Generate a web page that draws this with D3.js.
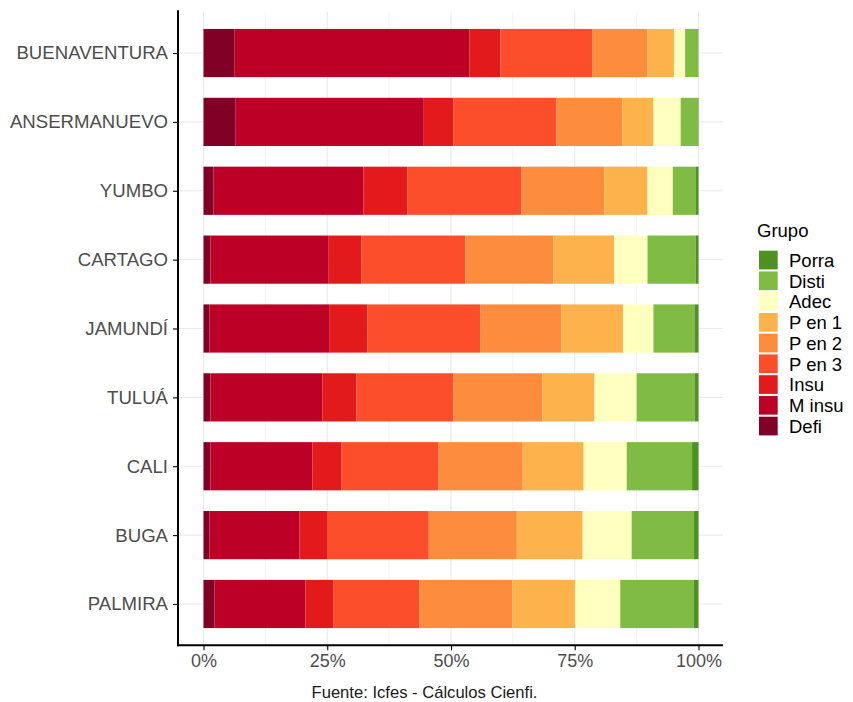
<!DOCTYPE html>
<html>
<head>
<meta charset="utf-8">
<script src="https://cdn.jsdelivr.net/npm/d3@7"></script>
<style>
  html, body { margin: 0; padding: 0; background: #fff; }
  svg { display: block; font-family: "Liberation Sans", Arial, sans-serif; }
</style>
</head>
<body>
<svg id="chart" width="853" height="702"></svg>
<script>
// ---- data ----
const categories = ["BUENAVENTURA", "ANSERMANUEVO", "YUMBO", "CARTAGO", "JAMUNDÍ", "TULUÁ", "CALI", "BUGA", "PALMIRA"];
const groups = ["Defi", "M insu", "Insu", "P en 3", "P en 2", "P en 1", "Adec", "Disti", "Porra"];
const defi   = [6.3, 6.5, 2.0, 1.4, 1.2, 1.4, 1.4, 1.2, 2.2];
const minsu  = [47.4, 38.0, 30.3, 23.9, 24.3, 22.6, 20.6, 18.2, 18.4];
const insu   = [6.3, 6.0, 8.9, 6.6, 7.6, 6.9, 5.9, 5.7, 5.6];
const pen3   = [18.6, 20.8, 23.0, 21.0, 22.8, 19.6, 19.6, 20.4, 17.4];
const pen2   = [11.1, 13.3, 16.8, 17.8, 16.4, 18.0, 17.0, 17.8, 18.8];
const pen1   = [5.4, 6.3, 8.7, 12.3, 12.5, 10.5, 12.3, 13.3, 12.7];
const adec   = [2.2, 5.5, 5.1, 6.7, 6.1, 8.5, 8.7, 9.9, 9.1];
const disti  = [2.7, 3.5, 4.7, 9.7, 8.3, 11.7, 13.2, 12.6, 14.8];
const porra  = [0.0, 0.1, 0.5, 0.6, 0.8, 0.8, 1.3, 0.9, 1.0];
const xTicks = [0, 25, 50, 75, 100];
const xMinor = [12.5, 37.5, 62.5, 87.5];
const caption = "Fuente: Icfes - Cálculos Cienfi.";
const legendTitle = "Grupo";

const colors = {
  "Defi": "#800026", "M insu": "#bd0026", "Insu": "#e31a1c", "P en 3": "#fc4e2a",
  "P en 2": "#fd8d3c", "P en 1": "#feb24c", "Adec": "#ffffc0", "Disti": "#80bc44", "Porra": "#4d9221"
};

const seriesArrays = [defi, minsu, insu, pen3, pen2, pen1, adec, disti, porra];
const table = categories.map((c, i) => {
  const row = { cat: c };
  groups.forEach((g, j) => row[g] = seriesArrays[j][i]);
  return row;
});

// ---- layout ----
const svg = d3.select("#chart");
const panel = { left: 178, right: 723, top: 11.7, bottom: 645.3 };

const x = d3.scaleLinear().domain([-5, 105]).range([panel.left + 0.75, panel.right + 0.25]);
const y = d3.scalePoint().domain(categories).range([panel.top, panel.bottom]).padding(0.6);
const barH = y.step() * 0.7;

// grid
const grid = svg.append("g");
grid.selectAll("line.minor").data(xMinor).join("line")
  .attr("x1", d => x(d)).attr("x2", d => x(d))
  .attr("y1", panel.top).attr("y2", panel.bottom)
  .attr("stroke", "#ebebeb").attr("stroke-width", 0.6);
grid.selectAll("line.major").data(xTicks).join("line")
  .attr("x1", d => x(d)).attr("x2", d => x(d))
  .attr("y1", panel.top).attr("y2", panel.bottom)
  .attr("stroke", "#ebebeb").attr("stroke-width", 1.2);
grid.selectAll("line.hmajor").data(categories).join("line")
  .attr("x1", panel.left).attr("x2", panel.right)
  .attr("y1", d => y(d)).attr("y2", d => y(d))
  .attr("stroke", "#ebebeb").attr("stroke-width", 1.2);

// bars
const stack = d3.stack().keys(groups)(table);
svg.append("g").selectAll("g").data(stack).join("g")
  .attr("fill", d => colors[d.key])
  .selectAll("rect").data(d => d).join("rect")
  .attr("x", d => x(d[0]))
  .attr("width", d => Math.max(0, x(d[1]) - x(d[0])))
  .attr("y", d => y(d.data.cat) - barH / 2)
  .attr("height", barH);

// axes
const xAxis = d3.axisBottom(x).tickValues(xTicks).tickFormat(d => d + "%").tickSize(5).tickPadding(4);
const gx = svg.append("g").attr("transform", `translate(0,${panel.bottom})`).call(xAxis);
gx.select(".domain").remove();
gx.selectAll(".tick line").attr("stroke", "#000").attr("stroke-width", 1.1);
gx.selectAll(".tick text").attr("fill", "#4d4d4d").style("font-size", "18px")
  .style("font-family", "'Liberation Sans', Arial, sans-serif");

const yAxis = d3.axisLeft(y).tickSize(5).tickPadding(5);
const gy = svg.append("g").attr("transform", `translate(${panel.left},0)`).call(yAxis);
gy.select(".domain").remove();
gy.selectAll(".tick line").attr("stroke", "#000").attr("stroke-width", 1.1);
gy.selectAll(".tick text").attr("fill", "#4d4d4d").style("font-size", "18.6px")
  .style("font-family", "'Liberation Sans', Arial, sans-serif");

svg.append("line").attr("x1", panel.left).attr("x2", panel.left)
  .attr("y1", panel.top - 1.5).attr("y2", panel.bottom + 1)
  .attr("stroke", "#000").attr("stroke-width", 2);
svg.append("line").attr("x1", panel.left - 1).attr("x2", panel.right)
  .attr("y1", panel.bottom).attr("y2", panel.bottom)
  .attr("stroke", "#000").attr("stroke-width", 2);

// caption
svg.append("text").attr("x", 424.5).attr("y", 698)
  .attr("text-anchor", "middle").attr("fill", "#1a1a1a")
  .style("font-size", "16.6px").text(caption);

// legend
const legend = svg.append("g").attr("transform", "translate(759,0)");
legend.append("text").attr("x", -2).attr("y", 237).attr("fill", "#000")
  .style("font-size", "18.5px").text(legendTitle);
const legendOrder = groups.slice().reverse();
const keys = legend.selectAll("g.key").data(legendOrder).join("g")
  .attr("transform", (d, i) => `translate(0,${250.7 + i * 20.75})`);
keys.append("rect").attr("width", 18.7).attr("height", 18.7).attr("fill", d => colors[d]);
keys.append("text").attr("x", 30).attr("y", 9.5).attr("dy", "0.36em")
  .attr("fill", "#000").style("font-size", "18.5px").text(d => d);
</script>
</body>
</html>
